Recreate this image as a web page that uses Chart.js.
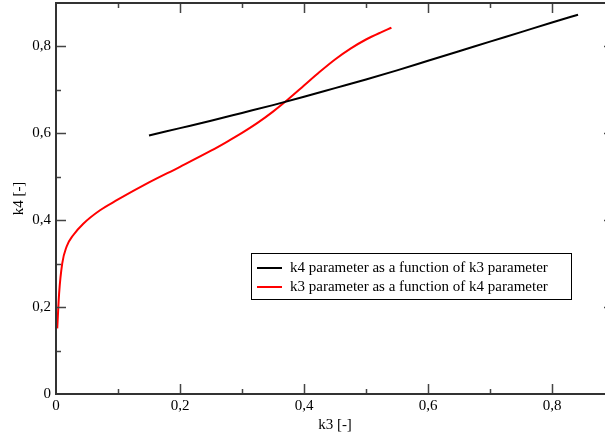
<!DOCTYPE html>
<html>
<head>
<meta charset="utf-8">
<script src="https://cdn.jsdelivr.net/npm/chart.js@4.4.1/dist/chart.umd.min.js"></script>
<style>
  html, body { margin: 0; padding: 0; background: #fff; overflow: hidden; }
  #wrap { width: 615px; height: 438px; }
</style>
</head>
<body>
<div id="wrap"><canvas id="chart" width="615" height="438"></canvas></div>
<script>
// k4 as a function of k3 (black)
const k3Black = [0.15, 0.20, 0.25, 0.30, 0.35, 0.40, 0.45, 0.50, 0.55, 0.60, 0.65, 0.70, 0.75, 0.80, 0.842];
const k4Black = [0.595, 0.612, 0.629, 0.647, 0.665, 0.684, 0.704, 0.724, 0.745, 0.767, 0.789, 0.811, 0.833, 0.855, 0.873];

// k3 as a function of k4 (red)
const k3Red = [0.002, 0.005, 0.010, 0.017, 0.028, 0.044, 0.071, 0.098, 0.15, 0.20, 0.25, 0.275, 0.30, 0.325, 0.35, 0.375, 0.40, 0.425, 0.45, 0.475, 0.50, 0.525, 0.541];
const k4Red = [0.151, 0.231, 0.300, 0.339, 0.366, 0.392, 0.423, 0.446, 0.487, 0.523, 0.560, 0.580, 0.601, 0.624, 0.650, 0.679, 0.710, 0.741, 0.770, 0.795, 0.816, 0.833, 0.843];

const seriesLabels = ['k4 parameter as a function of k3 parameter', 'k3 parameter as a function of k4 parameter'];
const xTitle = 'k3 [-]';
const yTitle = 'k4 [-]';

const fmt = v => (Math.abs(v) < 1e-9 ? '0' : v.toFixed(1).replace('.', ','));
const pts = (xs, ys) => xs.map((x, i) => ({ x, y: ys[i] }));

Chart.defaults.font.family = "'Liberation Serif', 'DejaVu Serif', serif";
Chart.defaults.font.size = 15;
Chart.defaults.color = '#000';

// cadre + graduations vers l'intérieur, sur les 4 côtés
const framePlugin = {
    id: 'frame',
    afterDraw(chart) {
        const { ctx, chartArea: a, scales } = chart;
        const sx = scales.x, sy = scales.y;
        ctx.save();
        ctx.strokeStyle = '#444';
        ctx.lineWidth = 1.5;
        for (let i = 1; i < 9; i++) {
            const len = i % 2 === 0 ? 10 : 5;
            const px = Math.round(sx.getPixelForValue(i / 10)) + 0.5;
            const py = Math.round(sy.getPixelForValue(i / 10)) + 0.5;
            ctx.beginPath();
            ctx.moveTo(px, a.bottom); ctx.lineTo(px, a.bottom - len);
            ctx.moveTo(px, a.top); ctx.lineTo(px, a.top + len);
            ctx.moveTo(a.left, py); ctx.lineTo(a.left + len, py);
            ctx.moveTo(a.right, py); ctx.lineTo(a.right - len, py);
            ctx.stroke();
        }
        ctx.strokeStyle = '#333';
        ctx.lineWidth = 2;
        ctx.strokeRect(a.left, a.top, a.right - a.left, a.bottom - a.top);
        ctx.restore();
    }
};

// légende encadrée dans la zone du graphe
const boxLegend = {
    id: 'boxLegend',
    afterDraw(chart, args, opts) {
        const { ctx } = chart;
        ctx.save();
        ctx.lineWidth = 1;
        ctx.strokeStyle = '#000';
        ctx.strokeRect(opts.x + 0.5, opts.y + 0.5, opts.w, opts.h);
        ctx.font = "15px 'Liberation Serif', serif";
        ctx.textBaseline = 'middle';
        ctx.fillStyle = '#000';
        chart.data.datasets.forEach((ds, i) => {
            const y = opts.y + opts.first + i * opts.step;
            ctx.strokeStyle = ds.borderColor;
            ctx.lineWidth = 2;
            ctx.beginPath();
            ctx.moveTo(opts.x + 6, y); ctx.lineTo(opts.x + 31, y);
            ctx.stroke();
            ctx.fillText(ds.label, opts.x + 39, y);
        });
        ctx.restore();
    }
};

new Chart(document.getElementById('chart').getContext('2d'), {
    type: 'line',
    data: {
        datasets: [
            { label: seriesLabels[0], data: pts(k3Black, k4Black), borderColor: '#000', borderWidth: 2, pointRadius: 0, cubicInterpolationMode: 'monotone' },
            { label: seriesLabels[1], data: pts(k3Red, k4Red), borderColor: '#ff0000', borderWidth: 2, pointRadius: 0, cubicInterpolationMode: 'monotone' }
        ]
    },
    options: {
        responsive: false,
        animation: false,
        layout: { padding: { top: 3, right: 1, left: 0, bottom: 0 } },
        plugins: {
            legend: { display: false },
            tooltip: { enabled: false },
            boxLegend: { x: 251, y: 253, w: 320, h: 46, first: 15, step: 19 }
        },
        scales: {
            x: {
                type: 'linear', min: 0, max: 0.9,
                grid: { display: false, drawTicks: false },
                border: { display: false },
                ticks: { stepSize: 0.2, includeBounds: false, padding: 3, maxRotation: 0, callback: fmt },
                title: { display: true, text: xTitle, padding: { top: 0, bottom: 4 } },
                afterFit(s) { s.height = 44; s.paddingLeft = 0; s.paddingRight = 0; }
            },
            y: {
                type: 'linear', min: 0, max: 0.9,
                grid: { display: false, drawTicks: false },
                border: { display: false },
                ticks: { stepSize: 0.2, includeBounds: false, padding: 5, callback: fmt },
                title: { display: true, text: yTitle, padding: { top: 10, bottom: 0 } },
                afterFit(s) { s.width = 56; s.paddingTop = 0; s.paddingBottom = 0; }
            }
        }
    },
    plugins: [framePlugin, boxLegend]
});
</script>
</body>
</html>
